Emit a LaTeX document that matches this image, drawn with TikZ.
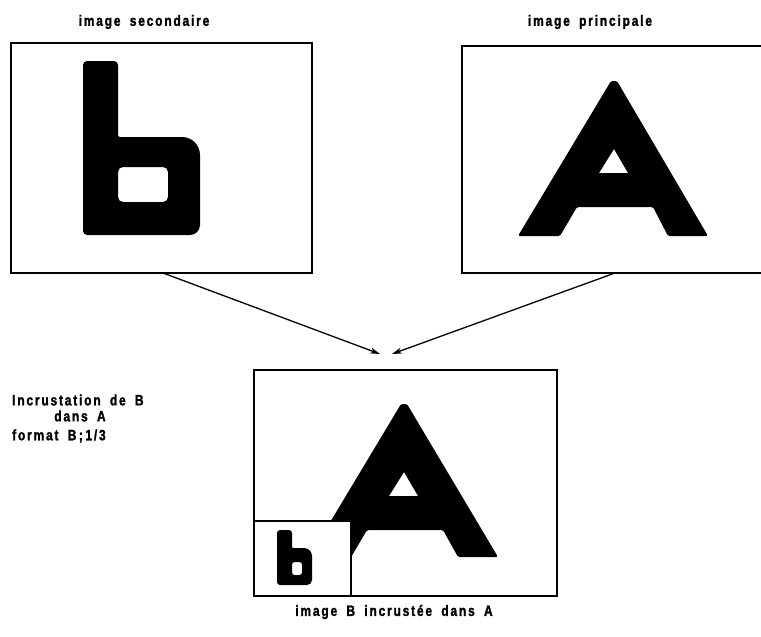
\documentclass[tikz,border=0pt]{standalone}
\usepackage{fontspec}
\setmainfont{Liberation Sans}[FakeStretch=0.8,LetterSpace=12,WordSpace=1.8,BoldFeatures={FakeBold=1.5}]
\usetikzlibrary{arrows.meta,calc}
\begin{document}
\begin{tikzpicture}[x=1pt,y=-1pt,
  frame/.style={draw,line width=1.8pt,inner sep=0pt,outer sep=0pt,anchor=north west},
  arr/.style={line width=1.3pt,-{Stealth[length=10pt,width=6pt]}},
  lbl/.style={font=\bfseries\fontsize{15}{17}\selectfont,inner sep=0pt}]
\useasboundingbox (0,0) rectangle (761,637);
% boxes
\node[frame,minimum width=301pt,minimum height=230pt] (sec) at (11,43) {};
\node[frame,minimum width=300pt,minimum height=227pt] (prin) at (462,46) {};
\node[frame,minimum width=303pt,minimum height=226pt] (res) at (254,370) {};
% big b
\fill[even odd rule]
  (83,150) [rounded corners=4pt] -- (83,61) -- (118,61) [rounded corners=2pt] -- (118,137)
  [rounded corners=18pt] -- (200,137) [rounded corners=10pt] -- (200,235) [rounded corners=4pt] -- (83,235) -- cycle
  [rounded corners=5pt] (118,167) rectangle (168,202);
% big A
\fill[even odd rule,rounded corners=1.5pt]
  (611,81) -- (617,81) -- (708,236) -- (668,236) -- (653,207) -- (577,207) -- (560,236) -- (518,236) -- cycle
  [sharp corners] (614,149) -- (628,173) -- (599,173) -- cycle;
% result A
\begin{scope}[shift={(-210,323)}]
\fill[even odd rule,rounded corners=1.5pt]
  (611,81) -- (617,81) -- (708,234) -- (668,234) -- (653,207) -- (577,207) -- (560,236) -- (518,236) -- cycle
  [sharp corners] (614,149) -- (628,173) -- (599,173) -- cycle;
\end{scope}
% inset box
\node[frame,fill=white,minimum width=97pt,minimum height=75pt] (ins) at (254,521) {};
% small b
\fill[even odd rule]
  (277,560) [rounded corners=3pt] -- (277,530) -- (292,530) [rounded corners=1pt] -- (292,548)
  [rounded corners=8pt] -- (312,548) [rounded corners=5pt] -- (312,585) [rounded corners=3pt] -- (277,585) -- cycle
  [rounded corners=2.5pt] (292,562) rectangle (302,575);
% arrows
\coordinate (t1) at (380,354);
\coordinate (t2) at (392,354);
\draw[arr] ($(sec.south west)!0.505!(sec.south east)$) -- (t1);
\draw[arr] ($(prin.south west)!0.51!(prin.south east)$) -- (t2);
% labels
\node[lbl] (l1) at (144,22) {image secondaire};
\node[lbl] (l2) at (590,22) {image principale};
\node[lbl,anchor=west] (l3) at (12,400) {Incrustation de B};
\node[lbl] (l4) at (80,416) {dans A};
\node[lbl,anchor=west] (l5) at (12,436) {format B\,;\,1/3};
\node[lbl] (l6) at (394,612) {image B incrustée dans A};
\end{tikzpicture}
\end{document}
